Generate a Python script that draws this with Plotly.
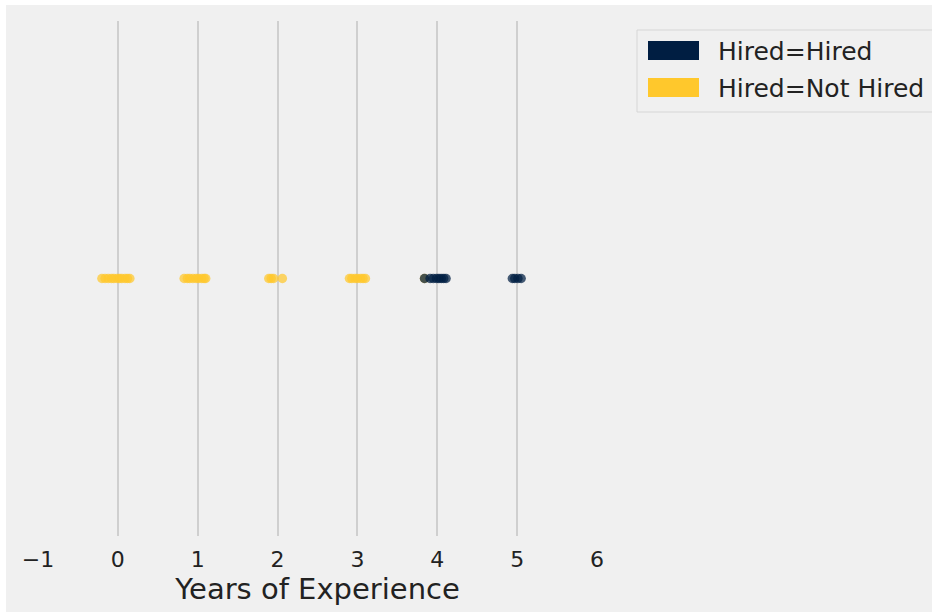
import plotly.graph_objects as go

# ---- data ----
hired_x = [3.84, 3.91, 3.95, 3.99, 4.02, 4.05, 4.08, 4.11, 4.94, 4.97, 5.01, 5.05]
not_hired_x = [-0.20, -0.16, -0.12, -0.08, -0.05, -0.01, 0.02, 0.05, 0.09, 0.12, 0.15,
               0.83, 0.87, 0.90, 0.94, 0.98, 1.01, 1.05, 1.08, 1.10,
               1.89, 1.92, 1.95, 2.06,
               2.90, 2.93, 2.97, 3.00, 3.04, 3.07, 3.10,
               3.84]
series_names = ["Hired=Hired", "Hired=Not Hired"]
series_colors = ["rgb(0,30,66)", "rgb(255,200,44)"]
x_ticks = [-1, 0, 1, 2, 3, 4, 5, 6]
x_label = "Years of Experience"

W, H = 932, 612
L, R, T, B = 38, 597, 21, 536  # plot area in pixels

def px(x):
    return (x - L) / (R - L)

def py(y):
    return (B - y) / (B - T)

fig = go.Figure()
fig.add_trace(go.Scatter(x=not_hired_x, y=[0] * len(not_hired_x), mode="markers",
                         marker=dict(color=series_colors[1], size=9.5, opacity=0.72, line=dict(width=0)),
                         name=series_names[1], showlegend=False, hoverinfo="skip"))
fig.add_trace(go.Scatter(x=hired_x, y=[0] * len(hired_x), mode="markers",
                         marker=dict(color=series_colors[0], size=9.5, opacity=0.72, line=dict(width=0)),
                         name=series_names[0], showlegend=False, hoverinfo="skip"))

shapes = []
annotations = []
# white strips on top and left
shapes.append(dict(type="rect", xref="paper", yref="paper", x0=px(-2), x1=px(W + 2), y0=py(5), y1=py(-2),
                   fillcolor="white", line=dict(width=0), layer="above"))
shapes.append(dict(type="rect", xref="paper", yref="paper", x0=px(-2), x1=px(6), y0=py(H + 2), y1=py(-2),
                   fillcolor="white", line=dict(width=0), layer="above"))
# legend box
shapes.append(dict(type="rect", xref="paper", yref="paper", x0=px(637), x1=px(W + 20), y0=py(112), y1=py(30),
                   fillcolor="#f0f0f0", line=dict(color="#d6d6d6", width=1), layer="above"))
legend_rows = [(41, 60, 52), (78, 97, 89)]
for (ya, yb, yc), name, col in zip(legend_rows, series_names, series_colors):
    shapes.append(dict(type="rect", xref="paper", yref="paper", x0=px(648), x1=px(699), y0=py(yb), y1=py(ya),
                       fillcolor=col, line=dict(width=0), layer="above"))
    annotations.append(dict(x=px(716), y=py(yc), xref="paper", yref="paper", text=name, showarrow=False,
                            xanchor="left", yanchor="middle",
                            font=dict(family="DejaVu Sans", size=25, color="#222222")))

fig.update_layout(
    width=W, height=H,
    margin=dict(l=L, r=W - R, t=T, b=H - B, pad=0),
    paper_bgcolor="#f0f0f0", plot_bgcolor="#f0f0f0",
    font=dict(family="DejaVu Sans", color="#222222"),
    shapes=shapes, annotations=annotations,
    showlegend=False, hovermode=False,
)
fig.update_xaxes(range=[-1, 6], tickvals=x_ticks, showgrid=True, gridcolor="#cfcfcf", gridwidth=1.8,
                 zeroline=False, showline=False, ticks="", ticklabelstandoff=8,
                 tickfont=dict(size=22, color="#222222"),
                 title=dict(text=x_label, font=dict(size=29, color="#222222"), standoff=0))
fig.update_yaxes(range=[-1, 1], showgrid=False, zeroline=False, showticklabels=False, ticks="", showline=False)

fig.write_html("out.html", config={"displayModeBar": False},
               post_script="document.body.style.margin='0';")
